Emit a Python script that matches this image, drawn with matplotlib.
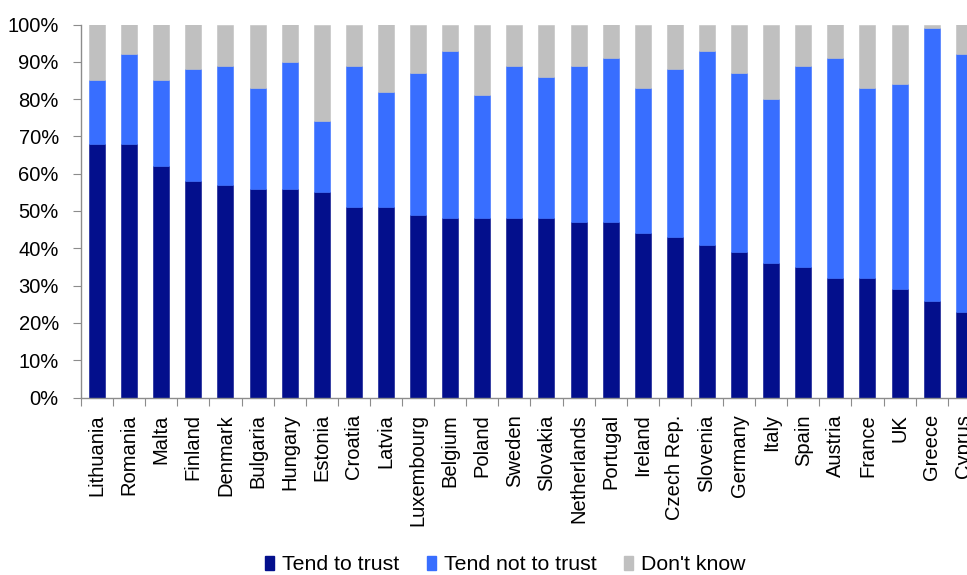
import matplotlib
matplotlib.use("Agg")
import matplotlib.pyplot as plt
import numpy as np
from matplotlib.ticker import FixedLocator, FuncFormatter
from matplotlib.patches import Patch

plt.rcParams['font.family'] = ['Liberation Sans', 'DejaVu Sans']

countries = ["Lithuania", "Romania", "Malta", "Finland", "Denmark", "Bulgaria", "Hungary",
             "Estonia", "Croatia", "Latvia", "Luxembourg", "Belgium", "Poland", "Sweden",
             "Slovakia", "Netherlands", "Portugal", "Ireland", "Czech Rep.", "Slovenia",
             "Germany", "Italy", "Spain", "Austria", "France", "UK", "Greece", "Cyprus"]
tend_to_trust = [68, 68, 62, 58, 57, 56, 56, 55, 51, 51, 49, 48, 48, 48, 48, 47, 47, 44,
                 43, 41, 39, 36, 35, 32, 32, 29, 26, 23]
tend_not_to_trust = [17, 24, 23, 30, 32, 27, 34, 19, 38, 31, 38, 45, 33, 41, 38, 42, 44, 39,
                     45, 52, 48, 44, 54, 59, 51, 55, 73, 69]
dont_know = [15, 8, 15, 12, 11, 17, 10, 26, 11, 18, 13, 7, 19, 11, 14, 11, 9, 17,
             12, 7, 13, 20, 11, 9, 17, 16, 1, 8]
series_names = ["Tend to trust", "Tend not to trust", "Don't know"]
colors = ["#030F8C", "#386EFF", "#C0C0C0"]

W, H = 967, 575
fig = plt.figure(figsize=(W / 100, H / 100), dpi=100)
n = len(countries)
px_per_cat = 32.1
ax_left, ax_right = 81, 81 + n * px_per_cat
ax_top, ax_bottom = 24.5, 397.5
ax = fig.add_axes([ax_left / W, 1 - ax_bottom / H, (ax_right - ax_left) / W, (ax_bottom - ax_top) / H])

x = np.arange(n)
t = np.array(tend_to_trust)
nt = np.array(tend_not_to_trust)
dk = np.array(dont_know)
ax.bar(x, t, width=0.5, color=colors[0], edgecolor=colors[0], linewidth=0.4)
ax.bar(x, nt, bottom=t, width=0.5, color=colors[1], edgecolor=colors[1], linewidth=0.4)
ax.bar(x, dk, bottom=t + nt, width=0.5, color=colors[2], edgecolor=colors[2], linewidth=0.4)

ax.set_xlim(-0.5, n - 0.5)
ax.set_ylim(0, 100)
ax.set_yticks(np.arange(0, 101, 10))
ax.yaxis.set_major_formatter(FuncFormatter(lambda v, p: f"{int(v)}%"))

ax.xaxis.set_major_locator(FixedLocator(np.arange(-0.5, n, 1.0)))
ax.xaxis.set_major_formatter(FuncFormatter(lambda v, p: ""))
ax.xaxis.set_minor_locator(FixedLocator(x))
ax.set_xticklabels(countries, minor=True, rotation=90, fontsize=14.5, va='top', ha='center')

spine_c = "#8C8C8C"
for s in ["top", "right"]:
    ax.spines[s].set_visible(False)
for s in ["left", "bottom"]:
    ax.spines[s].set_color(spine_c)
    ax.spines[s].set_linewidth(1.0)
ax.tick_params(axis='y', length=6, color=spine_c, pad=10, labelsize=14.5)
ax.tick_params(axis='x', which='major', length=6, color=spine_c)
ax.tick_params(axis='x', which='minor', length=0, pad=12)

handles = [Patch(facecolor=c, edgecolor=c) for c in colors]
fig.legend(handles, series_names, loc='center', bbox_to_anchor=(505 / W, 1 - 565 / H),
           ncol=3, frameon=False, fontsize=15.3, handlelength=0.45, handleheight=0.6,
           handletextpad=0.35, columnspacing=1.3)

fig.savefig("out.png", dpi=100)
